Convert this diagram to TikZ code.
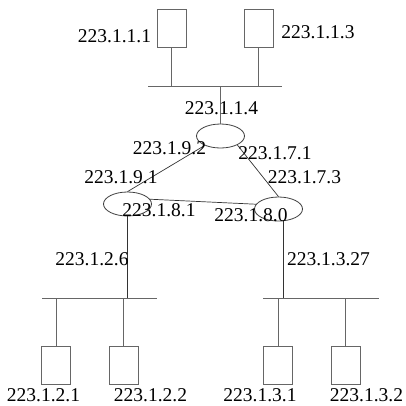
\documentclass[tikz,border=0pt]{standalone}
\usepackage{fontspec}
\setmainfont{Liberation Serif}
\usetikzlibrary{shapes.geometric}
\begin{document}
\begin{tikzpicture}[x=1pt,y=-1pt,
  host/.style={draw=black!60,line width=0.8pt,rectangle,minimum width=29pt,minimum height=38pt,inner sep=0pt},
  router/.style={draw=black!75,line width=0.8pt,ellipse,minimum width=48pt,minimum height=24pt,inner sep=0pt},
  wire/.style={draw=black!60,line width=0.8pt},
  link/.style={draw=black!80,line width=0.7pt},
  lbl/.style={font=\fontsize{19.5}{20}\selectfont,text height=13.4pt,text depth=0pt,inner sep=0pt}]
\useasboundingbox (0,0) rectangle (406,405);
% top subnet
\node[host] (h11) at (171.5,28) {};
\node[host] (h13) at (258.5,28) {};
\coordinate (b1l) at (148,86);
\coordinate (b1r) at (282,86);
\coordinate (b1a) at (171.5,86);
\coordinate (b1b) at (258.5,86);
\coordinate (b1c) at (220.5,86);
\draw[wire] (b1l) -- (b1r);
\draw[wire] (h11.south) -- (b1a);
\draw[wire] (h13.south) -- (b1b);
% routers
\node[router] (rt) at (220.5,136) {};
\node[router] (rl) at (127.5,204) {};
\node[router] (rr) at (278.5,209) {};
\draw[wire] (b1c) -- (rt.north);
\draw[link] (rt) -- (rl.north);
\draw[link] (rt.-28) -- (rr.north);
\draw[link] (rl.12) -- (rr.168);
% bottom subnets
\coordinate (b2l) at (42,298);
\coordinate (b2r) at (157,298);
\coordinate (b2c) at (127.5,298);
\coordinate (b2a) at (56,298);
\coordinate (b2b) at (123.5,298);
\coordinate (b3l) at (263,298);
\coordinate (b3r) at (379,298);
\coordinate (b3c) at (283,298);
\coordinate (b3a) at (278,298);
\coordinate (b3b) at (345.5,298);
\draw[wire] (b2l) -- (b2r);
\draw[wire] (b3l) -- (b3r);
\draw[link] (rl.south) -- (b2c);
\draw[link] (rr.south -| b3c) -- (b3c);
\node[host] (h21) at (56,365) {};
\node[host] (h22) at (123.5,365) {};
\node[host] (h31) at (278,365) {};
\node[host] (h32) at (345.5,365) {};
\draw[wire] (b2a) -- (h21.north);
\draw[wire] (b2b) -- (h22.north);
\draw[wire] (b3a) -- (h31.north);
\draw[wire] (b3b) -- (h32.north);
% labels
\node[lbl] (l1) at (114.5,36) {223.1.1.1};
\node[lbl] (l2) at (318,32) {223.1.1.3};
\node[lbl] (l3) at (221.5,108) {223.1.1.4};
\node[lbl] (l4) at (169.5,148) {223.1.9.2};
\node[lbl] (l5) at (275,153) {223.1.7.1};
\node[lbl] (l6) at (121,177) {223.1.9.1};
\node[lbl] (l7) at (304.5,177) {223.1.7.3};
\node[lbl] (l8) at (159,210) {223.1.8.1};
\node[lbl] (l9) at (251,215) {223.1.8.0};
\node[lbl] (l10) at (92,258.5) {223.1.2.6};
\node[lbl] (l11) at (328.5,258.5) {223.1.3.27};
\node[lbl] (l12) at (43.5,395) {223.1.2.1};
\node[lbl] (l13) at (150.5,395) {223.1.2.2};
\node[lbl] (l14) at (260,395) {223.1.3.1};
\node[lbl] (l15) at (366.5,395) {223.1.3.2};
\end{tikzpicture}
\end{document}
